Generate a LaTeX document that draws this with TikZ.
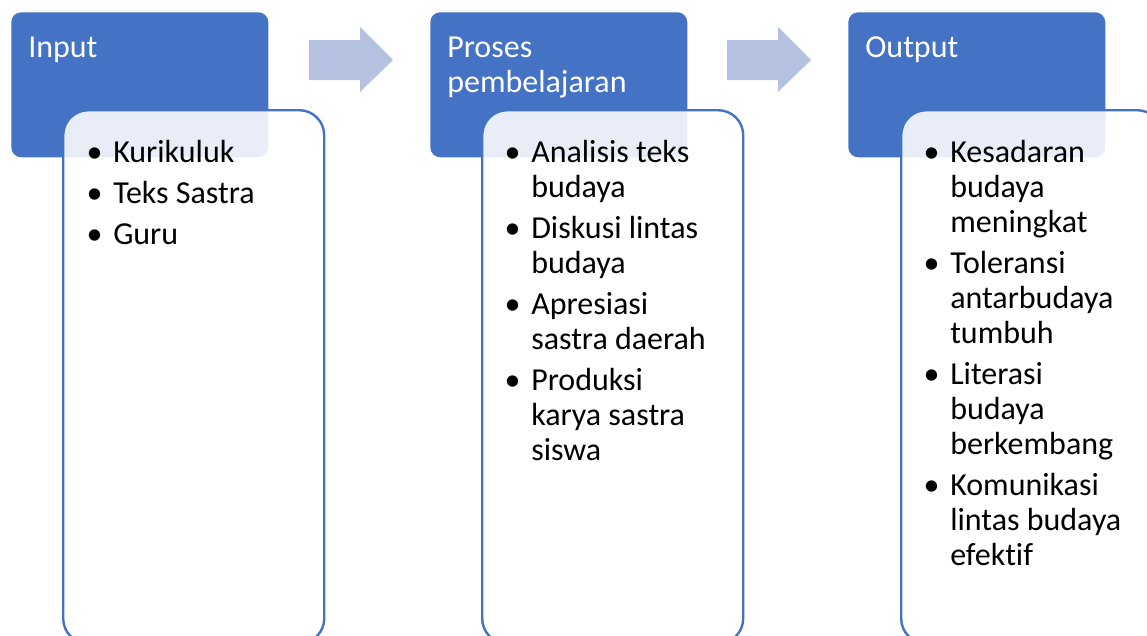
\documentclass[tikz,border=0pt]{standalone}
\usepackage{fontspec}
\setmainfont{Carlito}[Ligatures=NoCommon]
\definecolor{hdrblue}{RGB}{68,114,196}
\definecolor{arrblue}{RGB}{180,193,225}
\newcommand\bitem[1]{\par\noindent\llap{\textbullet\hspace{8pt}}#1}
\begin{document}
\begin{tikzpicture}[x=0.75pt,y=-0.75pt,
  hdr/.style={draw=none,fill=hdrblue,rounded corners=7.5pt,minimum width=192.75pt,minimum height=108.75pt,anchor=north west,inner sep=0pt},
  body/.style={draw=hdrblue,line width=1.8pt,fill=white,fill opacity=0.88,rounded corners=18.75pt,minimum width=195.75pt,minimum height=400pt,anchor=north west,inner sep=0pt},
  hdrtext/.style={text=white,anchor=base west,inner sep=0pt,font=\fontsize{24pt}{26.25pt}\selectfont},
  items/.style={anchor=base west,inner sep=0pt,text=black,font=\fontsize{24pt}{26.25pt}\selectfont},
  flow/.style={fill=arrblue,draw=none}]
\useasboundingbox (0,0) rectangle (1147,636);
\clip (0,0) rectangle (1147,636);
% boxes
\node[hdr] (h1) at (11,12) {};
\node[hdr] (h2) at (430,12) {};
\node[hdr] (h3) at (848,12) {};
\node[body] (b1) at (62,109) {};
\node[body] (b2) at (481,109) {};
\node[body] (b3) at (900,109) {};
% header texts
\node[hdrtext] (t1) at (28,57) {\parbox[t]{180pt}{Input}};
\node[hdrtext] (t2) at (447,57) {\parbox[t]{180pt}{Proses\\pembelajaran}};
\node[hdrtext] (t3) at (865,57) {\parbox[t]{180pt}{Output}};
% item texts
\node[items] (i1) at (113,162) {\parbox[t]{190pt}{\setlength\parskip{4.5pt}%
\bitem{Kurikuluk}\bitem{Teks Sastra}\bitem{Guru}}};
\node[items] (i2) at (531,162) {\parbox[t]{190pt}{\setlength\parskip{4.5pt}%
\bitem{Analisis teks\\budaya}\bitem{Diskusi lintas\\budaya}\bitem{Apresiasi\\sastra daerah}\bitem{Produksi\\karya sastra\\siswa}}};
\node[items] (i3) at (950,162) {\parbox[t]{190pt}{\setlength\parskip{4.5pt}%
\bitem{Kesadaran\\budaya\\meningkat}\bitem{Toleransi\\antarbudaya\\tumbuh}\bitem{Literasi\\budaya\\berkembang}\bitem{Komunikasi\\lintas budaya\\efektif}}};
% arrows
\fill[flow] (309,40) -- (360,40) -- (360,27) -- (393,60) -- (360,92) -- (360,80) -- (309,80) -- cycle;
\fill[flow] (727,40) -- (778,40) -- (778,27) -- (811,60) -- (778,92) -- (778,80) -- (727,80) -- cycle;
\end{tikzpicture}
\end{document}
